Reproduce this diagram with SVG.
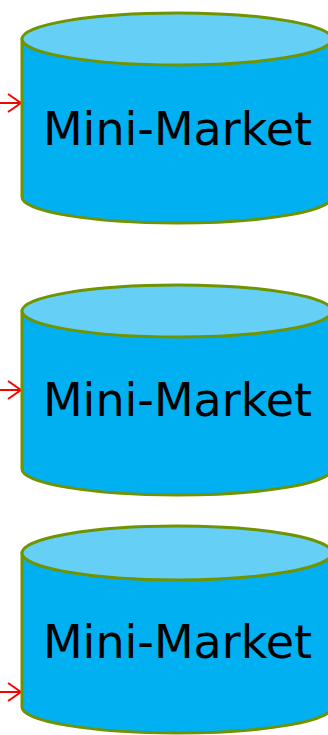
<svg xmlns="http://www.w3.org/2000/svg" width="328" height="735" viewBox="0 0 328 735">
<style>
.body{fill:#00B0F0;stroke:#6F9400;stroke-width:3}
.top{fill:#66CFF6;stroke:#6F9400;stroke-width:3}
.lbl{font-family:"DejaVu Sans",sans-serif;font-size:46px;fill:#000;text-anchor:middle}
.conn{stroke:#FF0000;stroke-width:2;fill:none}
</style>
<g id="connectors">
<path class="conn" d="M0,103 H21 M8,94 L21,103 L8,112"/>
<path class="conn" d="M0,390 H21 M8,381 L21,390 L8,399"/>
<path class="conn" d="M0,692 H21 M8,683 L21,692 L8,701"/>
</g>
<g id="node1">
<path class="body" d="M22,39 V197 A155,26 0 0 0 332,197 V39 Z"/>
<ellipse class="top" cx="177" cy="39" rx="155" ry="26"/>
<text class="lbl" x="177.5" y="145">Mini-Market</text>
</g>
<g id="node2">
<path class="body" d="M22,311 V469 A155,26 0 0 0 332,469 V311 Z"/>
<ellipse class="top" cx="177" cy="311" rx="155" ry="26"/>
<text class="lbl" x="177.5" y="416">Mini-Market</text>
</g>
<g id="node3">
<path class="body" d="M22,553 V707 A155,26 0 0 0 332,707 V553 Z"/>
<ellipse class="top" cx="177" cy="553" rx="155" ry="27"/>
<text class="lbl" x="177.5" y="658">Mini-Market</text>
</g>
</svg>
